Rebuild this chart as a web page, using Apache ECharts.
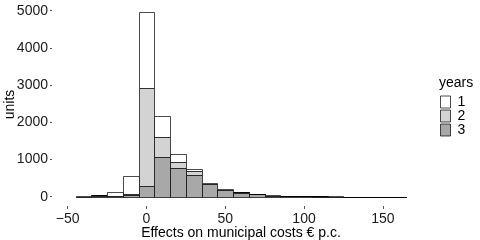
<!DOCTYPE html>
<html><head><meta charset="utf-8">
<script src="https://cdn.jsdelivr.net/npm/echarts@6/dist/echarts.min.js"></script>
<style>html,body{margin:0;padding:0;background:#fff}#c{width:480px;height:240px}</style>
</head><body><div id="c"></div>
<script>
// Histogram bins (centers, width 10) and counts per year (stacked: 3 bottom, 2 middle, 1 top)
const binCenters = [-40,-30,-20,-10,0,10,20,30,40,50,60,70,80,90,100,110,120,130,140,150,160];
const binWidth = 10;
const years = ['1','2','3'];
const year3 = [4,30,15,35,290,1065,770,580,335,175,112,64,30,8,7,6,5,0,0,0,0];
const year2 = [2,8,10,45,2625,535,170,100,15,12,8,5,3,1,1,1,1,0,0,0,0];
const year1 = [2,7,90,480,2045,580,205,55,10,8,6,3,2,1,1,1,1,0,0,0,0];
const xTicks = [-50,0,50,100,150];
const yTicks = [0,1000,2000,3000,4000,5000];
const fills = {'1':'#ffffff','2':'#d3d3d3','3':'#a8a8a8'};
const stroke = 'rgba(0,0,0,0.7)';
const font = 'Liberation Sans, Arial, Helvetica, sans-serif';

const byYear = {'1':year1,'2':year2,'3':year3};
const stackOrder = ['3','2','1'];
const base = binCenters.map(()=>0);
const series = stackOrder.map(y => {
  const vals = byYear[y];
  const data = binCenters.map((c,i) => {
    const b = base[i], t = b + vals[i];
    base[i] = t;
    return [c, b, t];
  });
  return {
    type:'custom', name:y, data:data,
    encode:{x:0, y:2},
    itemStyle:{color:fills[y]},
    renderItem:function(params, api){
      const c = api.value(0), b = api.value(1), t = api.value(2);
      const p0 = api.coord([c - binWidth/2, b]);
      const p1 = api.coord([c + binWidth/2, t]);
      const x0 = Math.round(p0[0])+0.5, x1 = Math.round(p1[0])+0.5;
      const y0 = Math.round(p0[1])+0.5, y1 = Math.round(p1[1])+0.5;
      return {type:'rect', shape:{x:x0, y:y1, width:x1-x0, height:y0-y1},
        style:{fill:fills[y], stroke:stroke, lineWidth:1}};
    }
  };
});

const chart = echarts.init(document.getElementById('c'), null, {renderer:'canvas'});
chart.setOption({
  animation:false,
  backgroundColor:'#ffffff',
  textStyle:{fontFamily:font},
  title:{text:'years', left:439, top:76, padding:0,
    textStyle:{fontSize:14, fontWeight:'normal', color:'#000', fontFamily:font}},
  legend:{orient:'vertical', left:440, top:95, padding:0, itemWidth:10, itemHeight:12, itemGap:0,
    selectedMode:false, icon:'rect',
    textStyle:{fontSize:14, color:'#000', lineHeight:12, height:12, fontFamily:font, padding:[0,0,0,2]},
    data:years.map(y => ({name:y, itemStyle:{color:fills[y], borderColor:stroke, borderWidth:1}}))},
  grid:{left:59, right:57, top:3, bottom:34, containLabel:false, outerBoundsMode:'none'},
  xAxis:{type:'value', min:-55.5, max:175.5, offset:0,
    axisLine:{show:false, onZero:false}, splitLine:{show:false},
    axisTick:{show:true, length:3, customValues:xTicks, lineStyle:{color:'#555', width:1}},
    axisLabel:{customValues:xTicks, fontSize:14, color:'#1a1a1a', margin:6, fontFamily:font,
      formatter:v => v < 0 ? '\u2212' + Math.abs(v) : String(v)},
    name:'Effects on municipal costs \u20ac p.c.', nameLocation:'middle', nameGap:20, nameMoveOverlap:false,
    nameTextStyle:{fontSize:14, color:'#000', fontFamily:font}},
  yAxis:{type:'value', min:-249, max:5208, offset:7,
    axisLine:{show:false, onZero:false}, splitLine:{show:false},
    axisTick:{show:true, length:2, customValues:yTicks, lineStyle:{color:'#555', width:1}},
    axisLabel:{customValues:yTicks, fontSize:14, color:'#1a1a1a', margin:4, fontFamily:font,
      formatter:v => String(v)},
    name:'units', nameLocation:'middle', nameGap:35, nameRotate:90, nameMoveOverlap:false,
    nameTextStyle:{fontSize:14, color:'#000', fontFamily:font}},
  series:series
});
</script>
</body></html>
